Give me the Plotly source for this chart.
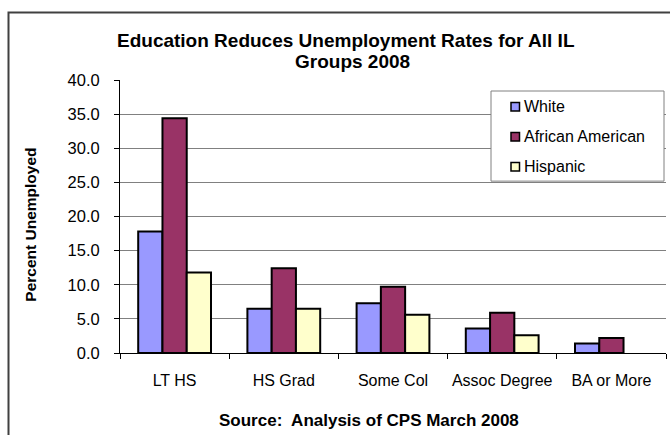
import plotly.graph_objects as go

categories = ["LT HS", "HS Grad", "Some Col", "Assoc Degree", "BA or More"]
series_names = ["White", "African American", "Hispanic"]
white = [17.8, 6.5, 7.3, 3.6, 1.4]
african_american = [34.4, 12.4, 9.7, 5.9, 2.2]
hispanic = [11.8, 6.5, 5.6, 2.6, None]
colors = ["#9999FF", "#993366", "#FFFFCC"]
y_ticks = [0, 5, 10, 15, 20, 25, 30, 35, 40]

W, H = 670, 435
L, R, T, B = 120, 666, 80, 352.7
FONT = "Liberation Sans, Arial, sans-serif"


def px(x):
    return (x - L) / (R - L)


def py(y):
    return (B - y) / (B - T)


fig = go.Figure()
for name, vals, col in zip(series_names, [white, african_american, hispanic], colors):
    fig.add_trace(go.Bar(
        x=categories, y=vals, name=name,
        marker=dict(color=col, line=dict(color="black", width=2)),
        showlegend=False,
    ))

shapes = []
annotations = []

# outer chart border
shapes.append(dict(type="rect", xref="paper", yref="paper",
                   x0=px(8.5), x1=px(720), y0=py(480), y1=py(12.5),
                   line=dict(color="#404040", width=2), fillcolor="rgba(0,0,0,0)", layer="below"))

# legend box
shapes.append(dict(type="rect", xref="paper", yref="paper",
                   x0=px(491), x1=px(664), y0=py(181), y1=py(91),
                   line=dict(color="#808080", width=1), fillcolor="white", layer="above"))
leg_y = [106.5, 136.5, 166.5]
for name, col, yy in zip(series_names, colors, leg_y):
    shapes.append(dict(type="rect", xref="paper", yref="paper",
                       x0=px(511), x1=px(519.5), y0=py(yy + 4.5), y1=py(yy - 4),
                       line=dict(color="black", width=1.5), fillcolor=col, layer="above"))
    annotations.append(dict(text=name, xref="paper", yref="paper", x=px(521.5), y=py(yy),
                            xanchor="left", yanchor="middle", showarrow=False,
                            font=dict(family=FONT, size=16, color="black")))

# titles
annotations.append(dict(text="<b>Education Reduces Unemployment Rates for All IL</b>",
                        xref="paper", yref="paper", x=px(346), y=py(41),
                        xanchor="center", yanchor="middle", showarrow=False,
                        font=dict(family=FONT, size=19, color="black")))
annotations.append(dict(text="<b>Groups 2008</b>",
                        xref="paper", yref="paper", x=px(352), y=py(62),
                        xanchor="center", yanchor="middle", showarrow=False,
                        font=dict(family=FONT, size=19, color="black")))
annotations.append(dict(text="<b>Percent Unemployed</b>",
                        xref="paper", yref="paper", x=px(31), y=py(224.5),
                        xanchor="center", yanchor="middle", showarrow=False, textangle=-90,
                        font=dict(family=FONT, size=15.5, color="black")))
annotations.append(dict(text="<b>Source:  Analysis of CPS March 2008</b>",
                        xref="paper", yref="paper", x=px(369), y=py(420),
                        xanchor="center", yanchor="middle", showarrow=False,
                        font=dict(family=FONT, size=17, color="black")))

fig.update_layout(
    width=W, height=H,
    margin=dict(l=L, r=W - R, t=T, b=H - B, pad=0, autoexpand=False),
    paper_bgcolor="white", plot_bgcolor="white",
    barmode="group", bargap=1.5 / 4.5, bargroupgap=0,
    font=dict(family=FONT, size=16, color="black"),
    shapes=shapes, annotations=annotations,
    xaxis=dict(showline=True, linecolor="black", linewidth=1, ticks="outside", ticklen=5,
               tickcolor="black", tickson="boundaries", showgrid=False, tickangle=0,
               automargin=False,
               tickfont=dict(family=FONT, size=16, color="black"), ticklabelstandoff=13),
    yaxis=dict(range=[0, 40], tickvals=y_ticks, tickformat=".1f", showline=True,
               linecolor="black", linewidth=1, ticks="outside", ticklen=5, tickcolor="black",
               showgrid=True, gridcolor="#808080", gridwidth=1, zeroline=False,
               automargin=False,
               tickfont=dict(family=FONT, size=16.5, color="black"), ticklabelstandoff=11),
)

fig.write_html("out.html")
